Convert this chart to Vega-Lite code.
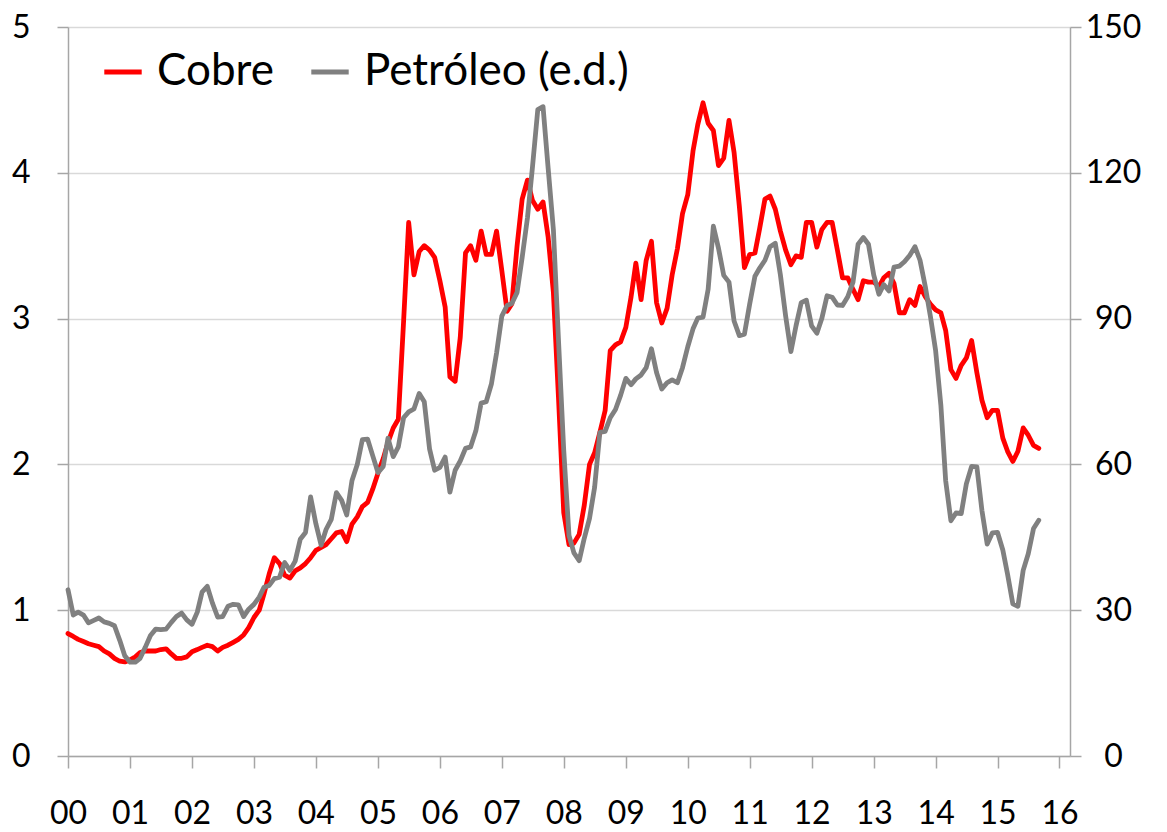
{
  "$schema": "https://vega.github.io/schema/vega-lite/v6.json",
  "width": 1002,
  "height": 729,
  "autosize": "none",
  "padding": {"left": 68, "top": 27, "right": 97, "bottom": 76},
  "background": "white",
  "config": {
    "font": "Lato",
    "view": {"stroke": null},
    "axis": {"labelColor": "black", "domainColor": "#a6a6a6", "tickColor": "#a6a6a6", "domainWidth": 1.5, "tickWidth": 1.5, "labelFont": "Lato"}
  },
  "data": {
    "values": [
      {"d":"2000-01","c":0.84,"p":34.2},{"d":"2000-02","c":0.82,"p":29.0},{"d":"2000-03","c":0.80,"p":29.6},{"d":"2000-04","c":0.785,"p":29.0},{"d":"2000-05","c":0.77,"p":27.4},{"d":"2000-06","c":0.76,"p":27.9},{"d":"2000-07","c":0.75,"p":28.4},{"d":"2000-08","c":0.72,"p":27.6},{"d":"2000-09","c":0.70,"p":27.3},{"d":"2000-10","c":0.67,"p":26.8},{"d":"2000-11","c":0.65,"p":23.8},{"d":"2000-12","c":0.645,"p":20.6},
      {"d":"2001-01","c":0.66,"p":19.3},{"d":"2001-02","c":0.68,"p":19.3},{"d":"2001-03","c":0.71,"p":20.1},{"d":"2001-04","c":0.72,"p":22.4},{"d":"2001-05","c":0.72,"p":24.8},{"d":"2001-06","c":0.72,"p":26.1},{"d":"2001-07","c":0.73,"p":26.0},{"d":"2001-08","c":0.735,"p":26.1},{"d":"2001-09","c":0.70,"p":27.5},{"d":"2001-10","c":0.67,"p":28.7},{"d":"2001-11","c":0.67,"p":29.4},{"d":"2001-12","c":0.68,"p":28.0},
      {"d":"2002-01","c":0.715,"p":27.1},{"d":"2002-02","c":0.73,"p":29.6},{"d":"2002-03","c":0.745,"p":33.7},{"d":"2002-04","c":0.76,"p":34.9},{"d":"2002-05","c":0.75,"p":31.5},{"d":"2002-06","c":0.72,"p":28.6},{"d":"2002-07","c":0.745,"p":28.7},{"d":"2002-08","c":0.76,"p":30.8},{"d":"2002-09","c":0.78,"p":31.2},{"d":"2002-10","c":0.80,"p":31.1},{"d":"2002-11","c":0.83,"p":28.7},{"d":"2002-12","c":0.88,"p":30.2},
      {"d":"2003-01","c":0.95,"p":31.2},{"d":"2003-02","c":1.00,"p":32.7},{"d":"2003-03","c":1.11,"p":34.7},{"d":"2003-04","c":1.25,"p":35.1},{"d":"2003-05","c":1.36,"p":36.5},{"d":"2003-06","c":1.32,"p":36.8},{"d":"2003-07","c":1.24,"p":39.8},{"d":"2003-08","c":1.22,"p":38.2},{"d":"2003-09","c":1.27,"p":40.1},{"d":"2003-10","c":1.29,"p":44.6},{"d":"2003-11","c":1.32,"p":46.0},{"d":"2003-12","c":1.36,"p":53.3},
      {"d":"2004-01","c":1.41,"p":47.8},{"d":"2004-02","c":1.43,"p":43.4},{"d":"2004-03","c":1.45,"p":46.6},{"d":"2004-04","c":1.49,"p":48.7},{"d":"2004-05","c":1.53,"p":54.2},{"d":"2004-06","c":1.54,"p":52.6},{"d":"2004-07","c":1.47,"p":49.6},{"d":"2004-08","c":1.59,"p":56.7},{"d":"2004-09","c":1.64,"p":60.0},{"d":"2004-10","c":1.71,"p":65.1},{"d":"2004-11","c":1.74,"p":65.2},{"d":"2004-12","c":1.83,"p":61.8},
      {"d":"2005-01","c":1.94,"p":58.3},{"d":"2005-02","c":2.04,"p":59.6},{"d":"2005-03","c":2.15,"p":65.4},{"d":"2005-04","c":2.25,"p":61.6},{"d":"2005-05","c":2.31,"p":63.6},{"d":"2005-06","c":2.98,"p":69.6},{"d":"2005-07","c":3.66,"p":70.8},{"d":"2005-08","c":3.30,"p":71.4},{"d":"2005-09","c":3.46,"p":74.6},{"d":"2005-10","c":3.50,"p":72.9},{"d":"2005-11","c":3.47,"p":63.2},{"d":"2005-12","c":3.42,"p":58.8},
      {"d":"2006-01","c":3.26,"p":59.4},{"d":"2006-02","c":3.08,"p":61.5},{"d":"2006-03","c":2.60,"p":54.3},{"d":"2006-04","c":2.57,"p":58.8},{"d":"2006-05","c":2.87,"p":60.7},{"d":"2006-06","c":3.45,"p":63.3},{"d":"2006-07","c":3.50,"p":63.6},{"d":"2006-08","c":3.40,"p":66.9},{"d":"2006-09","c":3.60,"p":72.6},{"d":"2006-10","c":3.44,"p":72.9},{"d":"2006-11","c":3.44,"p":76.6},{"d":"2006-12","c":3.60,"p":82.9},
      {"d":"2007-01","c":3.33,"p":90.5},{"d":"2007-02","c":3.05,"p":92.7},{"d":"2007-03","c":3.10,"p":93.1},{"d":"2007-04","c":3.50,"p":95.4},{"d":"2007-05","c":3.82,"p":102.6},{"d":"2007-06","c":3.95,"p":110.7},{"d":"2007-07","c":3.81,"p":121.3},{"d":"2007-08","c":3.75,"p":133.0},{"d":"2007-09","c":3.80,"p":133.6},{"d":"2007-10","c":3.56,"p":121.0},{"d":"2007-11","c":3.18,"p":108.3},{"d":"2007-12","c":2.46,"p":85.6},
      {"d":"2008-01","c":1.67,"p":62.9},{"d":"2008-02","c":1.45,"p":45.4},{"d":"2008-03","c":1.46,"p":41.8},{"d":"2008-04","c":1.52,"p":40.2},{"d":"2008-05","c":1.72,"p":44.8},{"d":"2008-06","c":2.00,"p":48.9},{"d":"2008-07","c":2.08,"p":55.3},{"d":"2008-08","c":2.22,"p":66.6},{"d":"2008-09","c":2.37,"p":66.8},{"d":"2008-10","c":2.78,"p":69.6},{"d":"2008-11","c":2.82,"p":71.3},{"d":"2008-12","c":2.84,"p":74.2},
      {"d":"2009-01","c":2.94,"p":77.7},{"d":"2009-02","c":3.15,"p":76.4},{"d":"2009-03","c":3.38,"p":77.6},{"d":"2009-04","c":3.13,"p":78.4},{"d":"2009-05","c":3.40,"p":79.9},{"d":"2009-06","c":3.53,"p":83.8},{"d":"2009-07","c":3.11,"p":78.9},{"d":"2009-08","c":2.97,"p":75.5},{"d":"2009-09","c":3.07,"p":76.8},{"d":"2009-10","c":3.30,"p":77.4},{"d":"2009-11","c":3.48,"p":76.8},{"d":"2009-12","c":3.72,"p":79.9},
      {"d":"2010-01","c":3.85,"p":84.2},{"d":"2010-02","c":4.15,"p":87.9},{"d":"2010-03","c":4.33,"p":90.1},{"d":"2010-04","c":4.48,"p":90.3},{"d":"2010-05","c":4.34,"p":96.0},{"d":"2010-06","c":4.29,"p":109.0},{"d":"2010-07","c":4.05,"p":104.5},{"d":"2010-08","c":4.10,"p":98.9},{"d":"2010-09","c":4.36,"p":97.5},{"d":"2010-10","c":4.14,"p":89.5},{"d":"2010-11","c":3.77,"p":86.5},{"d":"2010-12","c":3.35,"p":86.8},
      {"d":"2011-01","c":3.44,"p":93.0},{"d":"2011-02","c":3.45,"p":98.7},{"d":"2011-03","c":3.62,"p":100.4},{"d":"2011-04","c":3.82,"p":102.0},{"d":"2011-05","c":3.84,"p":104.8},{"d":"2011-06","c":3.75,"p":105.5},{"d":"2011-07","c":3.60,"p":99.0},{"d":"2011-08","c":3.47,"p":90.5},{"d":"2011-09","c":3.37,"p":83.2},{"d":"2011-10","c":3.43,"p":88.5},{"d":"2011-11","c":3.42,"p":93.3},{"d":"2011-12","c":3.66,"p":93.8},
      {"d":"2012-01","c":3.66,"p":88.5},{"d":"2012-02","c":3.49,"p":87.0},{"d":"2012-03","c":3.61,"p":90.0},{"d":"2012-04","c":3.66,"p":94.7},{"d":"2012-05","c":3.66,"p":94.4},{"d":"2012-06","c":3.47,"p":92.8},{"d":"2012-07","c":3.28,"p":92.7},{"d":"2012-08","c":3.28,"p":94.5},{"d":"2012-09","c":3.20,"p":97.5},{"d":"2012-10","c":3.13,"p":105.3},{"d":"2012-11","c":3.26,"p":106.7},{"d":"2012-12","c":3.25,"p":105.3},
      {"d":"2013-01","c":3.25,"p":99.0},{"d":"2013-02","c":3.22,"p":95.0},{"d":"2013-03","c":3.28,"p":97.0},{"d":"2013-04","c":3.31,"p":95.7},{"d":"2013-05","c":3.24,"p":100.6},{"d":"2013-06","c":3.04,"p":100.8},{"d":"2013-07","c":3.04,"p":101.7},{"d":"2013-08","c":3.13,"p":103.0},{"d":"2013-09","c":3.09,"p":104.8},{"d":"2013-10","c":3.22,"p":102.0},{"d":"2013-11","c":3.15,"p":96.6},{"d":"2013-12","c":3.10,"p":90.5},
      {"d":"2014-01","c":3.06,"p":83.4},{"d":"2014-02","c":3.04,"p":72.1},{"d":"2014-03","c":2.92,"p":56.7},{"d":"2014-04","c":2.65,"p":48.4},{"d":"2014-05","c":2.59,"p":50.0},{"d":"2014-06","c":2.68,"p":49.9},{"d":"2014-07","c":2.73,"p":56.0},{"d":"2014-08","c":2.85,"p":59.6},{"d":"2014-09","c":2.63,"p":59.5},{"d":"2014-10","c":2.44,"p":50.5},{"d":"2014-11","c":2.32,"p":43.6},{"d":"2014-12","c":2.37,"p":45.9},
      {"d":"2015-01","c":2.37,"p":46.0},{"d":"2015-02","c":2.18,"p":42.4},{"d":"2015-03","c":2.09,"p":37.4},{"d":"2015-04","c":2.02,"p":31.3},{"d":"2015-05","c":2.09,"p":30.8},{"d":"2015-06","c":2.25,"p":38.2},{"d":"2015-07","c":2.20,"p":41.6},{"d":"2015-08","c":2.13,"p":46.8},{"d":"2015-09","c":2.11,"p":48.5}
    ]
  },
  "layer": [
    {
      "mark": {"type": "line", "strokeWidth": 4.8, "strokeJoin": "round", "strokeCap": "round"},
      "encoding": {
        "x": {
          "field": "d", "type": "temporal",
          "scale": {"type": "utc", "domain": [{"year": 2000, "month": 1, "date": 1, "utc": true}, {"year": 2016, "month": 3, "date": 3, "utc": true}]},
          "axis": {"title": null, "labelExpr": "utcFormat(datum.value, '%y')", "tickCount": {"interval": "year", "step": 1}, "grid": false, "labelFontSize": 32, "labelPadding": 30, "tickSize": 12, "labelFlush": false, "labelOverlap": false}
        },
        "y": {
          "field": "c", "type": "quantitative",
          "scale": {"domain": [0, 5], "nice": false},
          "axis": {"orient": "left", "title": null, "values": [0, 1, 2, 3, 4, 5], "grid": true, "gridColor": "#d9d9d9", "gridWidth": 1.5, "tickSize": 11, "labelPadding": 27, "labelFontSize": 32}
        },
        "color": {
          "datum": "Cobre", "type": "nominal",
          "scale": {"domain": ["Cobre", "Petróleo (e.d.)"], "range": ["#ff0000", "#808080"]},
          "legend": {"title": null, "orient": "none", "legendX": 33, "legendY": 23, "direction": "horizontal", "symbolType": "stroke", "symbolSize": 1400, "symbolStrokeWidth": 5, "labelFontSize": 44, "labelOffset": 12, "columnPadding": 27, "padding": 0, "labelColor": "black", "labelLimit": 500}
        }
      }
    },
    {
      "mark": {"type": "line", "strokeWidth": 4.8, "strokeJoin": "round", "strokeCap": "round"},
      "encoding": {
        "x": {"field": "d", "type": "temporal"},
        "y": {
          "field": "p", "type": "quantitative",
          "scale": {"domain": [0, 150], "nice": false},
          "axis": {"orient": "right", "title": null, "values": [0, 30, 60, 90, 120, 150], "grid": false, "tickSize": 11, "labelPadding": 32, "labelAlign": "center", "labelFontSize": 32}
        },
        "color": {"datum": "Petróleo (e.d.)", "type": "nominal"}
      }
    }
  ],
  "resolve": {"scale": {"y": "independent"}, "axis": {"y": "independent"}}
}
